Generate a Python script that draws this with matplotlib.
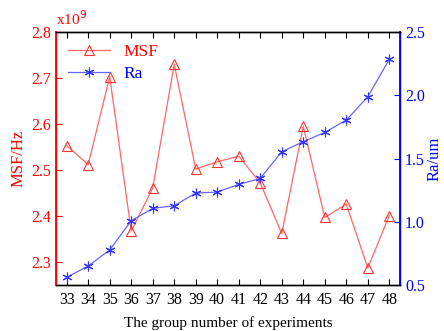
import numpy as np
import matplotlib.pyplot as plt

plt.rcParams['font.family'] = ['Liberation Serif', 'DejaVu Serif']

groups = list(range(33, 49))
msf = [2.553, 2.512, 2.703, 2.367, 2.461, 2.730, 2.502, 2.518, 2.530, 2.472,
       2.362, 2.595, 2.397, 2.426, 2.287, 2.401]   # x10^9 Hz
ra = [0.561, 0.650, 0.777, 1.008, 1.106, 1.127, 1.227, 1.235, 1.296, 1.343,
      1.554, 1.633, 1.707, 1.804, 1.989, 2.285]    # um

RED = "#ff0000"
BLUE = "#0000ff"
fs = 11.5

fig = plt.figure(figsize=(4.44, 3.31), dpi=100)
ax = fig.add_axes([0.126, 0.139, 0.775, 0.764])
ax2 = ax.twinx()

l1, = ax.plot(groups, msf, color="#ff6666", lw=0.9, marker="^", ms=7.5,
              mfc="none", mec="#ff3333", mew=0.8, label="MSF")
l2, = ax2.plot(groups, ra, color="#6666ff", lw=0.9, marker=(6, 2, 0), ms=7,
               mec="#3333ff", mew=0.8, label="Ra")

ax.set_xlim(32.5, 48.5)
ax.set_xticks(groups)
ax.set_ylim(2.25, 2.8)
ax.set_yticks([2.3, 2.4, 2.5, 2.6, 2.7, 2.8])
ax2.set_ylim(0.5, 2.5)
ax2.set_yticks([0.5, 1.0, 1.5, 2.0, 2.5])
ax2.set_yticklabels(["0.5", "1.0", "1.5", "2.0", "2.5"])

ax.tick_params(axis="x", direction="in", top=True, length=4, labelsize=fs, colors="black", pad=5)
ax.tick_params(axis="y", direction="in", length=4, labelsize=fs, colors=RED)
ax2.tick_params(axis="y", direction="in", length=4, labelsize=fs, colors=BLUE)

ax2.spines["left"].set_color(RED)
ax2.spines["right"].set_color(BLUE)
ax.spines["left"].set_color(RED)
ax.spines["right"].set_color(BLUE)
for a in (ax, ax2):
    for s in a.spines.values():
        s.set_linewidth(1.0)
ax2.spines["left"].set_linewidth(1.3)
ax2.spines["right"].set_linewidth(1.3)

ax.set_xlabel("The group number of experiments", fontsize=11)
ax.xaxis.set_label_coords(0.5, -0.125)
ax.set_ylabel("MSF/Hz", fontsize=12, color=RED)
ax.yaxis.set_label_coords(-0.085, 0.5)
ax2.set_ylabel("Ra/um", fontsize=12, color=BLUE)
ax2.yaxis.set_label_coords(1.078, 0.5)

ax.text(0.0, 1.015, "x10$^{9}$", transform=ax.transAxes, color=RED, fontsize=11,
        ha="left", va="bottom")

leg = ax.legend([l1, l2], ["MSF", "Ra"], loc="upper left", frameon=False,
                fontsize=12.5, handlelength=2.4, borderaxespad=0.3, labelspacing=0.3)
for t, c in zip(leg.get_texts(), [RED, BLUE]):
    t.set_color(c)

fig.savefig("out.png", dpi=100)
